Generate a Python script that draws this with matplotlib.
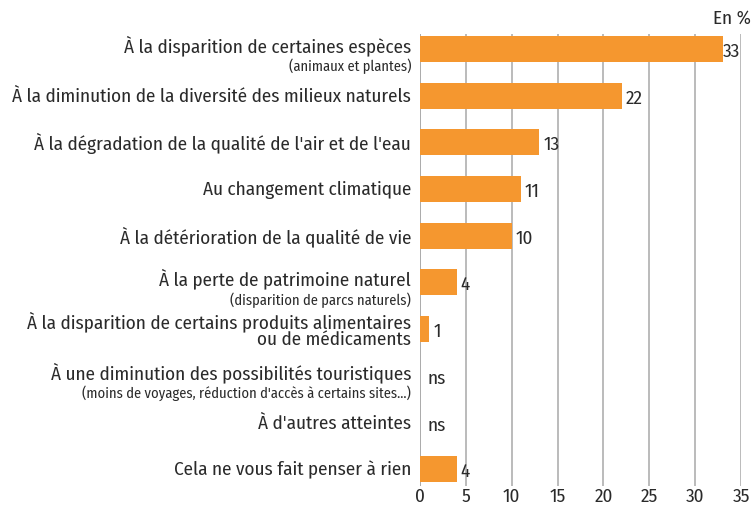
import matplotlib
matplotlib.use("Agg")
import matplotlib.pyplot as plt
from matplotlib import font_manager as fm
import matplotlib.transforms as mtransforms

names = {f.name for f in fm.fontManager.ttflist}
prefs = ["Fira Sans Condensed", "PT Sans Narrow", "Roboto Condensed", "Open Sans Condensed",
         "Asap Condensed", "Archivo Narrow", "Liberation Sans Narrow", "Encode Sans Condensed"]
FONT = next((p for p in prefs if p in names), "DejaVu Sans")
plt.rcParams['font.family'] = [FONT, 'DejaVu Sans']

main_labels = [
    "À la disparition de certaines espèces",
    "À la diminution de la diversité des milieux naturels",
    "À la dégradation de la qualité de l'air et de l'eau",
    "Au changement climatique",
    "À la détérioration de la qualité de vie",
    "À la perte de patrimoine naturel",
    "À la disparition de certains produits alimentaires\nou de médicaments",
    "À une diminution des possibilités touristiques",
    "À d'autres atteintes",
    "Cela ne vous fait penser à rien",
]
sub_labels = [
    "(animaux et plantes)", None, None, None, None,
    "(disparition de parcs naturels)", None,
    "(moins de voyages, réduction d'accès à certains sites…)", None, None,
]
values = [33, 22, 13, 11, 10, 4, 1, None, None, 4]
value_text = ["33", "22", "13", "11", "10", "4", "1", "ns", "ns", "4"]
xticks = [0, 5, 10, 15, 20, 25, 30, 35]

fig = plt.figure(figsize=(7.53, 5.06), dpi=100)
ax = fig.add_axes([420/753, 1-487/506, 321/753, (487-35)/506])

# calibrate font size so the longest label fits like in the reference (~400 px)
probe = fig.text(0, 0, main_labels[1], fontsize=13)
fig.canvas.draw()
w = probe.get_window_extent().width
probe.remove()
FS = 13 * 400 / w
FS_SUB = FS * 0.76

pos = list(range(len(main_labels)))
bar_color = "#F5972F"
txt_color = "#2A2A2A"
for i, v in zip(pos, values):
    if v is not None:
        ax.barh(i, v, height=0.56, color=bar_color, zorder=3)

ax.set_xlim(0, 35)
ax.set_ylim(9.36, -0.32)
ax.set_xticks(xticks)
ax.set_xticklabels([str(t) for t in xticks], fontsize=FS, color=txt_color)
ax.set_yticks([])
ax.tick_params(axis='x', length=0, pad=1)
for s in ax.spines.values():
    s.set_visible(False)
ax.grid(axis='x', color="#A8A8A8", linewidth=1.1, zorder=0)
ax.axvline(0, color="#A8A8A8", linewidth=1.1, zorder=1)

trans = mtransforms.blended_transform_factory(ax.transAxes, ax.transData)
for i in pos:
    m = main_labels[i]
    s = sub_labels[i]
    if s is None:
        ax.text(-0.028, i, m, transform=trans, ha='right', va='center',
                fontsize=FS, color=txt_color, linespacing=0.95)
    else:
        ax.text(-0.028, i - 0.1, m, transform=trans, ha='right', va='center',
                fontsize=FS, color=txt_color)
        ax.text(-0.028, i + 0.36, s, transform=trans, ha='right', va='center',
                fontsize=FS_SUB, color=txt_color)

for i, v, t in zip(pos, values, value_text):
    if v is None:
        x = 0.8
    else:
        x = v + (0.05 if v == 33 else 0.45)
    ax.text(x, i + 0.04, t, ha='left', va='center', fontsize=FS, color=txt_color)

fig.text(751/753, 1-18/506, "En %", ha='right', va='center', fontsize=FS, color=txt_color)

fig.savefig("out.png", dpi=100)
